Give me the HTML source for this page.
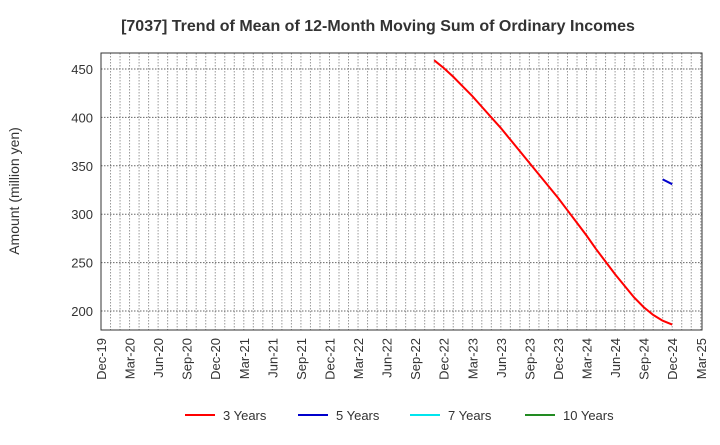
<!DOCTYPE html>
<html><head><meta charset="utf-8"><style>
body{margin:0;background:#fff;font-family:"Liberation Sans",sans-serif}
svg text{font-family:"Liberation Sans",sans-serif}
</style></head><body>
<svg id="chart" width="720" height="440" xmlns="http://www.w3.org/2000/svg">
<text x="378" y="31" text-anchor="middle" font-size="16" font-weight="bold" fill="#333">[7037]  Trend of Mean of 12-Month Moving Sum of Ordinary Incomes</text>
<text transform="translate(19,191) rotate(-90)" text-anchor="middle" font-size="14" fill="#333">Amount (million yen)</text>
<g id="grid"></g><g id="axes"></g><g id="series"></g>
<rect x="101" y="53" width="601" height="277" fill="none" stroke="#333" stroke-width="1"/>
<g id="legend"></g>
</svg>
<script>
const months=["Dec-19","Mar-20","Jun-20","Sep-20","Dec-20","Mar-21","Jun-21","Sep-21","Dec-21","Mar-22","Jun-22","Sep-22","Dec-22","Mar-23","Jun-23","Sep-23","Dec-23","Mar-24","Jun-24","Sep-24","Dec-24","Mar-25"];
const yTicks=[200,250,300,350,400,450];
const s3start=35;
const s3=[459,451,442,432,422,411,400,389,377,365,353,341,329,317,304,291,278,264,251,238,226,214,204,196,190,186];
const s5start=59;
const s5=[336,331];
const legendItems=["3 Years","5 Years","7 Years","10 Years"];
const legendColors=["#ff0000","#0000cc","#00e5ee","#228b22"];
const NS="http://www.w3.org/2000/svg";
const L=101,R=702,T=53,B=330;
const x=m=>L+m*9.52;
const y=v=>69+(450-v)*0.968;
function mk(t,a,p){const e=document.createElementNS(NS,t);for(const k in a)e.setAttribute(k,a[k]);p.appendChild(e);return e;}
const g=document.getElementById('grid'),ax=document.getElementById('axes'),se=document.getElementById('series'),lg=document.getElementById('legend');
for(let m=1;m<=63;m++){const l=mk('line',{x1:x(m),x2:x(m),y1:T,y2:B,stroke:'#999','stroke-dasharray':'1.5,1.5','stroke-width':1},g);

}
yTicks.forEach(v=>{const l=mk('line',{x1:L,x2:R,y1:y(v),y2:y(v),stroke:'#666','stroke-dasharray':'1.5,1.5','stroke-width':1},g);


const t=mk('text',{x:L-8,y:y(v)+5,'text-anchor':'end','font-size':13,fill:'#333'},ax);t.textContent=v;

});
months.forEach((lab,i)=>{const xx=x(i*3);const t=mk('text',{transform:`translate(${xx+5},338) rotate(-90)`,'text-anchor':'end','font-size':13,fill:'#333'},ax);t.textContent=lab;

});
function line(start,vals,col,name){const p=mk('polyline',{points:vals.map((v,i)=>x(start+i)+','+y(v)).join(' '),fill:'none',stroke:col,'stroke-width':2},se);

}
line(s3start,s3,'#ff0000','series-3-years');
line(s5start,s5,'#0000cc','series-5-years');
const lx=[185,298,410,525];
legendItems.forEach((n,i)=>{const e=mk('g',{},lg);


mk('line',{x1:lx[i],x2:lx[i]+30,y1:415,y2:415,stroke:legendColors[i],'stroke-width':2},e);
const t=mk('text',{x:lx[i]+38,y:420,'font-size':13,fill:'#333'},e);t.textContent=n;});
</script>
</body></html>
